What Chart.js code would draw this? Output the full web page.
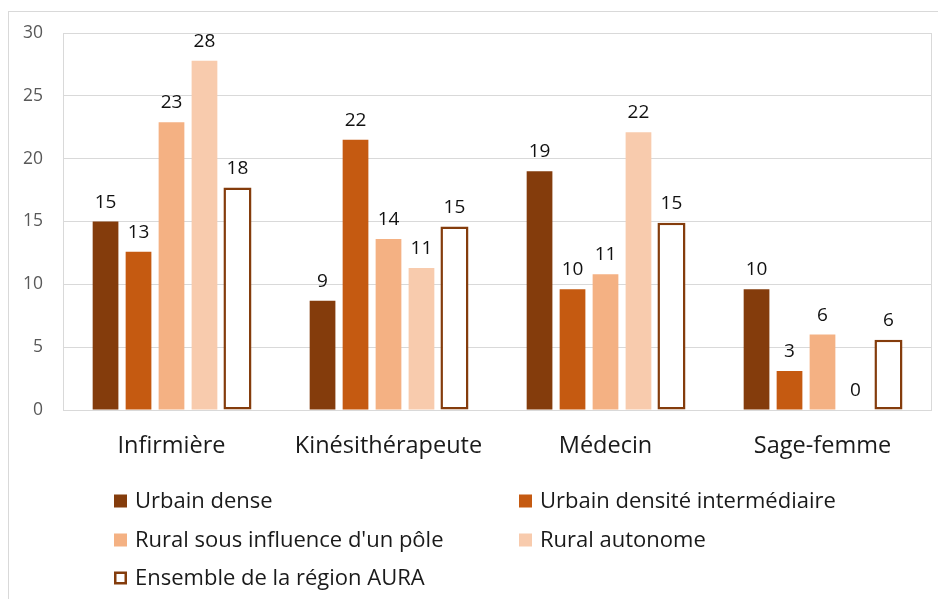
<!DOCTYPE html>
<html><head><meta charset="utf-8">
<script src="https://cdn.jsdelivr.net/npm/chart.js@4/dist/chart.umd.min.js"></script>
<style>
html,body{margin:0;padding:0;background:#fff;overflow:hidden;width:938px;height:599px;}
#frame{position:absolute;left:8px;top:11px;width:1000px;height:700px;border:1px solid #d9d9d9;box-sizing:border-box;}
#wrap{position:absolute;left:0;top:0;width:938px;height:599px;}
</style></head><body>
<div id="frame"></div>
<div id="wrap"><canvas id="c" width="938" height="599"></canvas></div>
<script>
// ---- data ----
const categories = ['Infirmière', 'Kinésithérapeute', 'Médecin', 'Sage-femme'];
const seriesNames = ['Urbain dense', 'Urbain densité intermédiaire', "Rural sous influence d'un pôle", 'Rural autonome', 'Ensemble de la région AURA'];
const urbainDense   = [15.0, 8.7, 19.0, 9.6];
const urbainInter   = [12.6, 21.5, 9.6, 3.1];
const ruralPole     = [22.9, 13.6, 10.8, 6.0];
const ruralAutonome = [27.8, 11.3, 22.1, 0];
const ensembleAura  = [17.7, 14.6, 14.9, 5.6];
const yTickMin = 0, yTickMax = 30, yTickStep = 5;

// ---- styles ----
const FONT = '"Open Sans", Lato, sans-serif';
const colors = ['#843C0C', '#C55A11', '#F4B183', '#F8CBAD', '#FFFFFF'];
const AURA_BORDER = '#843C0C';
const GRID = '#d9d9d9';

const plotFrame = {
  id: 'plotFrame',
  beforeDatasetsDraw(chart) {
    const {ctx, chartArea: a} = chart;
    ctx.save();
    ctx.strokeStyle = GRID; ctx.lineWidth = 1;
    ctx.strokeRect(Math.round(a.left) + 0.5, Math.round(a.top) + 0.5, Math.round(a.right - a.left), Math.round(a.bottom - a.top));
    ctx.restore();
  }
};

const valueLabels = {
  id: 'valueLabels',
  afterDatasetsDraw(chart) {
    const {ctx} = chart;
    ctx.save();
    ctx.font = '19px ' + FONT;
    ctx.fillStyle = '#111';
    ctx.textAlign = 'center';
    ctx.textBaseline = 'alphabetic';
    chart.data.datasets.forEach((ds, i) => {
      const meta = chart.getDatasetMeta(i);
      meta.data.forEach((bar, j) => {
        ctx.fillText(String(Math.round(ds.data[j])), bar.x, bar.y - 14);
      });
    });
    ctx.restore();
  }
};

const gridLegend = {
  id: 'gridLegend',
  afterDraw(chart) {
    const {ctx} = chart;
    const colX = [114, 519];
    const rowY = [501, 540, 578];
    ctx.save();
    ctx.font = '22px ' + FONT;
    ctx.textBaseline = 'alphabetic';
    ctx.textAlign = 'left';
    chart.data.datasets.forEach((ds, i) => {
      const x = colX[i % 2], y = rowY[Math.floor(i / 2)];
      const s = 13;
      if (ds.borderWidth && ds.borderWidth > 0) {
        ctx.fillStyle = '#fff';
        ctx.fillRect(x, y - s / 2, s, s);
        ctx.strokeStyle = ds.borderColor; ctx.lineWidth = 2.5;
        ctx.strokeRect(x + 1.25, y - s / 2 + 1.25, s - 2.5, s - 2.5);
      } else {
        ctx.fillStyle = ds.backgroundColor;
        ctx.fillRect(x, y - s / 2, s, s);
      }
      ctx.fillStyle = '#1a1a1a';
      ctx.fillText(ds.label, x + 21, y + 7);
    });
    ctx.restore();
  }
};

const seriesData = [urbainDense, urbainInter, ruralPole, ruralAutonome, ensembleAura];
const datasets = seriesData.map((d, i) => {
  const ds = {
    label: seriesNames[i],
    data: d,
    backgroundColor: colors[i],
    borderWidth: 0,
    categoryPercentage: 0.76,
    barPercentage: 0.78
  };
  if (i === 4) {
    ds.borderColor = AURA_BORDER;
    ds.borderWidth = 2.5;
    ds.borderSkipped = false;
    ds.barPercentage = 0.85;
  }
  return ds;
});

new Chart(document.getElementById('c'), {
  type: 'bar',
  data: { labels: categories, datasets },
  options: {
    responsive: false,
    animation: false,
    devicePixelRatio: 1,
    layout: { padding: { left: 0, right: 7, top: 33, bottom: 0 } },
    plugins: { legend: { display: false }, tooltip: { enabled: false } },
    scales: {
      x: {
        grid: { display: false, drawTicks: false },
        border: { display: false },
        ticks: { color: '#1a1a1a', font: { family: FONT, size: 23.5 }, padding: 22 },
        afterFit(scale) { scale.height = 189; }
      },
      y: {
        min: yTickMin, max: yTickMax,
        grid: { color: GRID, lineWidth: 1, drawTicks: false },
        border: { display: false },
        ticks: { stepSize: yTickStep, color: '#595959', font: { family: FONT, size: 17.5 }, padding: 20 },
        afterFit(scale) { scale.width = 63; }
      }
    }
  },
  plugins: [plotFrame, valueLabels, gridLegend]
});
</script>
</body></html>
